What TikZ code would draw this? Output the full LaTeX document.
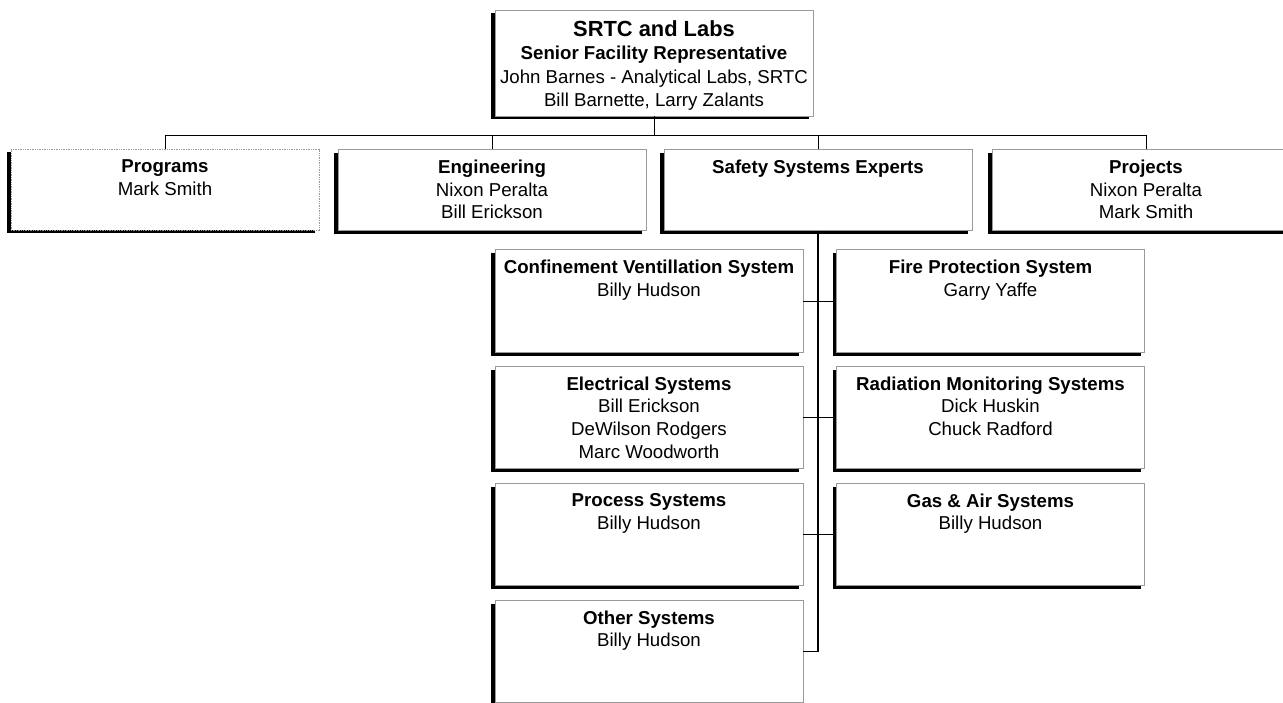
\documentclass[tikz,border=0pt]{standalone}
\usepackage{fontspec}
\setmainfont{Liberation Sans}
\usetikzlibrary{calc,shadows}
\definecolor{Frame}{HTML}{9A9A9A}

\begin{document}
\begin{tikzpicture}[x=0.75pt,y=-0.75pt,
    orgbox/.style={draw=Frame,line width=0.6pt,fill=white,inner sep=0pt,
      minimum width=231pt,minimum height=60.75pt,
      drop shadow={shadow xshift=-2.8pt,shadow yshift=-2.6pt,opacity=1,fill=black}},
    sysbox/.style={orgbox,minimum height=77pt},
    head/.style={anchor=north,align=center,inner sep=0pt,yshift=-8pt,
      font=\fontsize{14}{17}\selectfont},
    link/.style={line width=0.6pt},
    trunk/.style={line width=1.2pt}]
  \useasboundingbox (0,0) rectangle (1283,703);

  % top of the chart
  \node[orgbox,minimum width=238.5pt,minimum height=79.5pt,
    label={[head,yshift=0.2pt,font=\fontsize{14}{17.6}\selectfont]north:{%
      {\fontsize{16.4}{17.6}\selectfont\textbf{SRTC and Labs}}\\
      \textbf{Senior Facility Representative}\\
      John Barnes - Analytical Labs, SRTC\\
      Bill Barnette, Larry Zalants}}] (srtc) at (654,63) {};

  % second row
  \node[orgbox,dash pattern=on 1pt off 0.8pt,
    label={[head]north:{\textbf{Programs}\\Mark Smith}}] (prog) at (165,189.5) {};
  \node[orgbox,label={[head]north:{\textbf{Engineering}\\Nixon Peralta\\Bill Erickson}}]
    (eng) at (492,190) {};
  \node[orgbox,label={[head]north:{\textbf{Safety Systems Experts}}}] (saf) at (818,190) {};
  \node[orgbox,label={[head]north:{\textbf{Projects}\\Nixon Peralta\\Mark Smith}}]
    (proj) at (1146,190) {};

  % safety systems
  \foreach \nm/\cx/\cy/\txt in {
    conf/649/301/{\textbf{Confinement Ventillation System}\\Billy Hudson},
    elec/649/417.5/{\textbf{Electrical Systems}\\Bill Erickson\\DeWilson Rodgers\\Marc Woodworth},
    proc/649/534.5/{\textbf{Process Systems}\\Billy Hudson},
    oth/649/651.5/{\textbf{Other Systems}\\Billy Hudson},
    fire/990.5/301/{\textbf{Fire Protection System}\\Garry Yaffe},
    rad/990.5/417.5/{\textbf{Radiation Monitoring Systems}\\Dick Huskin\\Chuck Radford},
    gas/990.5/534.5/{\textbf{Gas \& Air Systems}\\Billy Hudson}}
    \node[sysbox,label={[head]north:{\txt}}] (\nm) at (\cx,\cy) {};

  % connectors
  \coordinate (bus) at (654,135);
  \draw[link] (srtc.south) -- (srtc.south |- bus);
  \draw[link] (prog.north) -- (prog.north |- bus) -- (proj.north |- bus) -- (proj.north);
  \foreach \nm in {eng,saf}
    \draw[link] (\nm.north) -- (\nm.north |- bus);
  \draw[trunk] (saf.south) -- (saf.south |- oth.east);
  \draw[link] (saf.south |- oth.east) -- (oth.east);
  \draw[link] (conf.east) -- (fire.west);
  \draw[link] (elec.east) -- (rad.west);
  \draw[link] (proc.east) -- (gas.west);
\end{tikzpicture}
\end{document}
